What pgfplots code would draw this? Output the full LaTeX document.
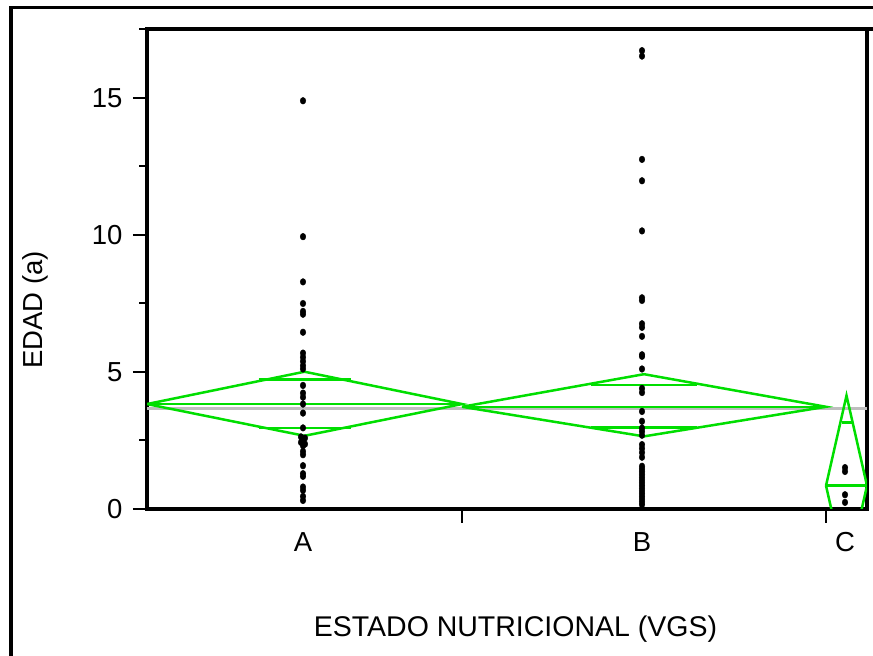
\documentclass[border=0pt]{standalone}
\usepackage{pgfplots}
\pgfplotsset{compat=1.18}
\usepackage{fontspec}
\setmainfont{Liberation Sans}
\definecolor{jmpgreen}{RGB}{0,222,0}
\definecolor{jmpgrey}{RGB}{190,190,190}

\pgfplotstableread{
x y
156 14.89
156 9.93
156 8.28
156 7.49
156 7.20
156 7.10
156 6.44
156 5.68
156 5.53
156 5.38
156 5.22
156 5.10
156 4.50
156 4.22
156 4.07
156 3.82
156 3.49
156 2.95
154 2.62
158 2.58
156 2.50
154 2.42
158 2.36
156 2.30
156 2.09
156 1.97
156 1.57
156 1.28
156 1.18
156 0.79
156 0.67
156 0.45
156 0.30
}\grupoA

\pgfplotstableread{
x y
495 16.72
495 16.52
495 12.75
495 11.97
495 10.14
495 7.70
495 7.60
495 6.75
495 6.62
495 6.29
495 5.62
495 5.56
495 5.10
495 4.39
495 4.24
495 3.55
495 3.19
495 2.94
495 2.82
495 2.68
495 2.34
495 2.20
495 2.05
495 1.88
495 1.55
495 1.45
495 1.35
495 1.25
495 1.15
495 1.05
495 0.95
495 0.85
495 0.75
495 0.65
495 0.55
495 0.45
495 0.35
495 0.25
495 0.15
}\grupoB

\pgfplotstableread{
x y
698 1.50
698 1.36
698 0.51
698 0.23
}\grupoC

\begin{document}
\begin{tikzpicture}[x=1bp,y=1bp]
\useasboundingbox (0,0) rectangle (873,656);
\draw[line width=3.3bp] (11,0) -- (11,648.3) -- (873,648.3);
\begin{axis}[
  at={(147bp,147.3bp)}, anchor=south west,
  scale only axis, width=720bp, height=479.4bp,
  xmin=0, xmax=720, ymin=0, ymax=17.5,
  axis line style={line width=4bp},
  font=\fontsize{27.5bp}{33bp}\selectfont,
  /pgf/number format/assume math mode=true,
  tick align=outside,
  ytick={0,5,10,15}, minor ytick={2.5,7.5,12.5,17.5},
  ytick pos=left, xtick pos=bottom,
  yticklabel style={xshift=-7bp},
  xtick={315,679}, xticklabels={},
  major tick length=14bp, minor tick length=8bp,
  tick style={line width=2.2bp, black},
  extra x ticks={156,495,698},
  extra x tick labels={A,B,C},
  extra x tick style={grid=none, major tick length=0pt, tick style={draw=none},
     xticklabel style={yshift=-20bp}},
  xlabel={ESTADO NUTRICIONAL (VGS)},
  xlabel style={at={(axis description cs:0.5118,-0.2666)}, anchor=base,
     font=\fontsize{28.5bp}{34bp}\selectfont},
  ylabel={EDAD (a)},
  ylabel style={at={(axis description cs:-0.1556,0.415)}, anchor=center},
]
% grand mean
\addplot[jmpgrey, line width=3bp] coordinates {(0,3.64) (720,3.64)};
% diamond A
\addplot[jmpgreen, line width=2.5bp] coordinates {(0,3.82) (157.5,5.0) (315,3.82) (157.5,2.66) (0,3.82)};
\addplot[jmpgreen, line width=2.5bp] coordinates {(0,3.82) (315,3.82)};
\addplot[jmpgreen, line width=2.5bp] coordinates {(111.5,4.71) (203.5,4.71)};
\addplot[jmpgreen, line width=2.5bp] coordinates {(111.5,2.95) (203.5,2.95)};
% diamond B
\addplot[jmpgreen, line width=2.5bp] coordinates {(315,3.72) (497,4.91) (679,3.72) (497,2.64) (315,3.72)};
\addplot[jmpgreen, line width=2.5bp] coordinates {(315,3.72) (679,3.72)};
\addplot[jmpgreen, line width=2.5bp] coordinates {(444,4.51) (550,4.51)};
\addplot[jmpgreen, line width=2.5bp] coordinates {(444,2.96) (550,2.96)};
% diamond C
\addplot[jmpgreen, line width=2.5bp] coordinates {(679,0.84) (699.5,4.13) (720,0.84) (699.5,-2.45) (679,0.84)};
\addplot[jmpgreen, line width=2.5bp] coordinates {(679,0.84) (720,0.84)};
\addplot[jmpgreen, line width=2.5bp] coordinates {(694.5,3.15) (704.5,3.15)};
% points
\addplot[only marks, mark=*, mark size=2.8bp, mark options={draw=none, fill=black, yscale=1.2}] table[x=x,y=y] {\grupoA};
\addplot[only marks, mark=*, mark size=2.8bp, mark options={draw=none, fill=black, yscale=1.2}] table[x=x,y=y] {\grupoB};
\addplot[only marks, mark=*, mark size=2.8bp, mark options={draw=none, fill=black, yscale=1.2}] table[x=x,y=y] {\grupoC};
\end{axis}
\draw[line width=4bp] (867,626.7) -- (873,626.7);
\end{tikzpicture}
\end{document}
